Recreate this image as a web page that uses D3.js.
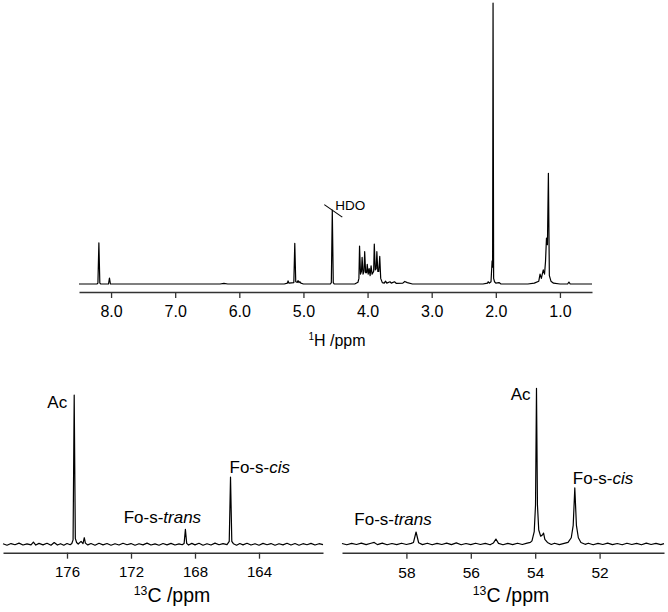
<!DOCTYPE html>
<html lang="en">
    <head>
        <meta charset="utf-8">
        <title>NMR spectra</title>
        <script type="text/javascript" src="https://d3js.org/d3.v7.min.js"></script>
    </head>
    <style>
    body {
      margin: 0;
      font-family: "Liberation Sans", Arial, Helvetica, sans-serif;
      background: #fff;
    }
    </style>
    <body>
      <script type="text/javascript">
      //1H spectrum, [ppm, intensity] (2.04 peak = 100)
      var protonSpectrum = [
        [8.50,0],[8.22,0],[8.205,0.3],[8.19,14.6],[8.175,0.3],[8.16,0],
        [8.04,0],[8.025,2.1],[8.01,0],
        [6.30,0],[6.24,0.25],[6.18,0],
        [5.30,0],[5.25,0.3],[5.24,1.1],[5.225,0.3],[5.15,0.5],[5.135,14.5],[5.12,0.8],
        [5.095,0.6],[5.085,1.2],[5.07,0.5],[5.055,0.8],[5.04,0.3],[5.0,0],
        [4.58,0],[4.565,0.5],[4.55,26.3],[4.535,0.5],[4.52,0],
        [4.2,0],[4.15,0.6],[4.135,2],[4.125,13.5],[4.11,3.5],[4.095,4.5],[4.085,9.5],[4.07,3.5],
        [4.055,4.5],[4.045,11.5],[4.03,4],[4.015,4],[4.005,7],[3.99,3.5],[3.975,5.5],[3.96,3],
        [3.945,6.5],[3.93,3.5],[3.905,4.5],[3.895,14.2],[3.88,5],[3.865,5.5],[3.855,11.5],[3.84,4.5],
        [3.825,4.5],[3.81,9.8],[3.795,2],[3.77,0.5],[3.74,0.3],[3.72,1.0],[3.70,0.3],[3.65,0.8],
        [3.63,0.3],[3.58,0.8],[3.55,0.2],[3.45,0.3],[3.42,0.9],[3.38,0.5],[3.30,0],
        [2.20,0],[2.13,0.3],[2.12,0.8],[2.10,0.3],[2.075,0.8],[2.058,8.2],[2.05,6],[2.043,100],
        [2.034,2],[2.02,0.8],[2.0,0.3],[1.95,0.5],[1.92,0],
        [1.50,0],[1.40,0.3],[1.33,1],[1.31,3.5],[1.29,2],[1.26,5],[1.24,3.5],[1.225,8],
        [1.21,16.3],[1.195,14],[1.18,39.4],[1.165,3],[1.14,1],[1.10,0.3],[1.0,0],
        [0.88,0],[0.86,0.7],[0.84,0],[0.5,0]
      ];
      var protonTicks = [8, 7, 6, 5, 4, 3, 2, 1];

      //13C carbonyl region (Ac = 100)
      var carbonylSpectrum = [
        [180.0,0.4],[179.75,-0.6],[179.5,0.5],[179.25,-0.3],[179.0,0.8],[178.75,-0.5],[178.5,0.3],
        [178.25,-0.4],[178.1,1.5],[177.95,-0.5],[177.75,0.6],[177.5,-0.4],[177.25,0.7],[177.0,-0.6],
        [176.8,1.2],[176.6,-0.5],[176.4,0.4],[176.2,-0.6],[176.0,0.5],[175.8,-0.3],[175.7,0.5],
        [175.62,3],[175.55,100],[175.48,4],[175.4,1.2],[175.3,0.2],[175.12,2],[175.0,0.5],
        [174.92,4.4],[174.85,0.8],[174.7,-0.4],[174.5,0.5],[174.25,-0.6],[174.0,0.7],[173.75,-0.4],
        [173.5,0.5],[173.25,-0.6],[173.0,0.4],[172.75,-0.5],[172.5,0.7],[172.25,-0.3],[172.0,0.5],
        [171.75,-0.6],[171.5,0.4],[171.25,-0.4],[171.0,0.8],[170.75,-0.5],[170.5,0.3],[170.25,-0.6],
        [170.0,0.5],[169.75,-0.4],[169.5,0.6],[169.25,-0.5],[169.0,0.3],[168.8,-0.3],[168.68,0.6],
        [168.6,10],[168.52,0.6],[168.4,-0.5],[168.2,0.6],[168.0,-0.4],[167.75,0.7],[167.5,-0.6],
        [167.25,0.4],[167.0,-0.5],[166.75,0.8],[166.5,-0.3],[166.25,0.5],[166.0,-0.2],
        [165.86,2],[165.78,45],[165.7,2],[165.6,0.4],[165.4,-0.6],[165.2,0.5],[165.0,-0.4],
        [164.75,0.7],[164.5,-0.5],[164.25,0.4],[164.0,-0.6],[163.75,0.6],[163.5,-0.3],[163.25,0.5],
        [163.0,-0.6],[162.75,0.4],[162.5,-0.4],[162.25,0.7],[162.0,-0.5],[161.75,0.5],[161.5,-0.6],
        [161.25,0.4],[161.0,-0.3],[160.75,0.6],[160.5,-0.5],[160.25,0.4],[160.0,-0.2]
      ];
      var carbonylTicks = [176, 172, 168, 164];

      //13C 50-60 ppm region (Ac = 100)
      var methylSpectrum = [
        [60.0,0.3],[59.85,-0.5],[59.7,0.4],[59.55,-0.3],[59.4,0.6],[59.25,-0.4],[59.1,0.5],
        [59.0,1.0],[58.9,-0.4],[58.75,0.6],[58.6,-0.5],[58.45,0.3],[58.3,-0.4],[58.15,0.5],
        [58.0,-0.3],[57.85,0.4],[57.78,1.0],[57.7,7.7],[57.62,0.8],[57.5,-0.4],[57.35,0.5],
        [57.2,-0.5],[57.05,0.4],[56.9,-0.3],[56.75,0.6],[56.6,-0.4],[56.45,0.7],[56.3,-0.5],
        [56.15,0.3],[56.0,-0.4],[55.85,0.5],[55.7,-0.3],[55.55,0.4],[55.4,-0.5],[55.3,0.6],
        [55.22,3.2],[55.14,0.4],[55.0,-0.5],[54.85,0.4],[54.7,-0.4],[54.55,0.5],[54.4,-0.3],
        [54.25,0.6],[54.15,1.0],[54.1,2],[54.03,8],[53.99,25],[53.96,100],[53.93,25],[53.89,9],
        [53.83,5],[53.77,6],[53.74,7],[53.7,3],[53.62,1],[53.5,-0.3],[53.4,0.5],[53.25,-0.4],
        [53.1,0.4],[52.98,1],[52.88,4],[52.82,12],[52.77,36],[52.72,12],[52.66,4],[52.58,1],
        [52.45,-0.2],[52.35,0.5],[52.2,-0.5],[52.05,0.4],[51.9,-0.3],[51.75,0.6],[51.6,-0.4],
        [51.45,0.3],[51.3,-0.5],[51.15,0.5],[51.0,-0.3],[50.85,0.4],[50.7,-0.5],[50.55,0.6],
        [50.4,-0.3],[50.25,0.4],[50.1,-0.4],[50.0,0.2]
      ];
      var methylTicks = [58, 56, 54, 52];

      //peak labels [ppm, text, italic part]
      var carbonylLabels = [[175.55, "Ac", ""], [168.6, "Fo-s-", "trans"], [165.78, "Fo-s-", "cis"]];
      var methylLabels = [[53.96, "Ac", ""], [57.7, "Fo-s-", "trans"], [52.77, "Fo-s-", "cis"]];

      var w = 668;
      var h = 612;

      var svg = d3.select("body")
            .append("svg")
            .attr("width", w)
            .attr("height", h);

      //draws one panel: spectrum line + bottom axis
      function drawPanel(data, ticks, fmt, xr, baseY, topY, axisY, tickFont) {
        var xScale = d3.scaleLinear()
              .domain([data[0][0], data[data.length - 1][0]])
              .range(xr);
        var yScale = d3.scaleLinear()
              .domain([0, 100])
              .range([baseY, topY]);

        var line = d3.line()
              .x(function(d) { return xScale(d[0]); })
              .y(function(d) { return yScale(d[1]); });

        svg.append("path")
            .datum(data)
            .attr("d", line)
            .attr("fill", "none")
            .attr("stroke", "#000")
            .attr("stroke-width", 1.2)
            .attr("stroke-linejoin", "round");

        var axis = d3.axisBottom(xScale)
              .tickValues(ticks)
              .tickFormat(fmt)
              .tickSize(6)
              .tickSizeOuter(0)
              .tickPadding(8);

        var g = svg.append("g")
            .attr("transform", "translate(0," + axisY + ")")
            .call(axis);
        g.select(".domain").attr("stroke", "#333").attr("stroke-width", 1.6);
        g.selectAll(".tick line").attr("stroke", "#333").attr("stroke-width", 1.3);
        g.selectAll(".tick text")
            .attr("fill", "#000")
            .attr("font-family", "Liberation Sans, Arial, sans-serif")
            .attr("font-size", tickFont);

        return { x: xScale, y: yScale };
      }

      //axis title with superscript isotope number
      function axisTitle(x, y, iso, atom, size) {
        var t = svg.append("text")
            .attr("x", x)
            .attr("y", y)
            .attr("text-anchor", "middle")
            .attr("font-size", size)
            .attr("fill", "#000");
        t.append("tspan").attr("font-size", size * 0.63).attr("dy", -size * 0.38).text(iso);
        t.append("tspan").attr("dy", size * 0.38).text(atom + " /ppm");
      }

      //peak label
      function peakLabel(s, lab, dx, y, anchor) {
        var t = svg.append("text")
            .attr("x", s.x(lab[0]) + dx)
            .attr("y", y)
            .attr("text-anchor", anchor)
            .attr("font-size", 17)
            .attr("fill", "#000");
        t.append("tspan").text(lab[1]);
        if (lab[2]) t.append("tspan").attr("font-style", "italic").text(lab[2]);
      }

      //Top: 1H
      var hPanel = drawPanel(protonSpectrum, protonTicks, d3.format(".1f"), [79, 592], 284, 3, 292, 16);
      axisTitle(337, 346, "1", "H", 16);

      //HDO marker
      var hx = hPanel.x(4.55), hy = hPanel.y(26.3);
      svg.append("line")
          .attr("x1", hx - 8).attr("y1", hy - 5.5)
          .attr("x2", hx + 10).attr("y2", hy + 7)
          .attr("stroke", "#000")
          .attr("stroke-width", 1.1);
      svg.append("text")
          .attr("x", hx + 3)
          .attr("y", hy)
          .attr("font-size", 13.5)
          .attr("fill", "#000")
          .text("HDO");

      //Bottom left: carbonyl
      var bl = drawPanel(carbonylSpectrum, carbonylTicks, d3.format("d"), [3, 323], 544.3, 395, 552.7, 15);
      axisTitle(172, 602, "13", "C", 19.5);
      peakLabel(bl, carbonylLabels[0], -7, 407.5, "end");
      peakLabel(bl, carbonylLabels[1], -23, 523, "middle");
      peakLabel(bl, carbonylLabels[2], -1, 473, "start");

      //Bottom right
      var br = drawPanel(methylSpectrum, methylTicks, d3.format("d"), [342, 664], 544, 388.3, 552.7, 15.5);
      axisTitle(511, 602, "13", "C", 19.5);
      peakLabel(br, methylLabels[0], -6, 400, "end");
      peakLabel(br, methylLabels[1], -23, 525, "middle");
      peakLabel(br, methylLabels[2], -2, 484, "start");
      </script>
    </body>
</html>
